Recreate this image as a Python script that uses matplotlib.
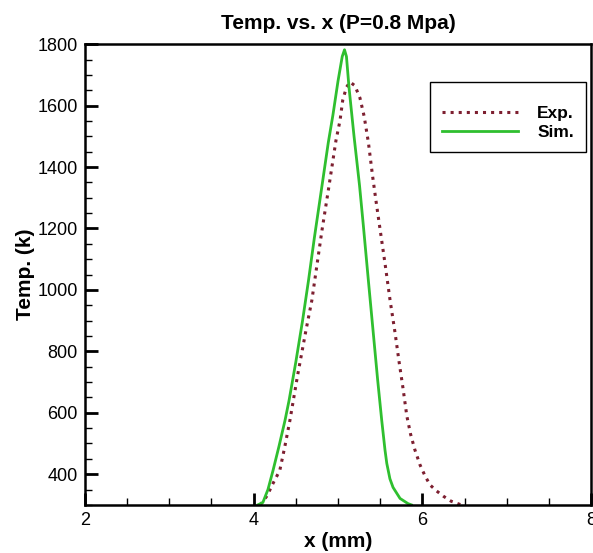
import matplotlib
matplotlib.use("Agg")
import matplotlib.pyplot as plt
from matplotlib.ticker import MultipleLocator

plt.rcParams["font.family"] = ["Liberation Sans", "DejaVu Sans"]

# simulated temperature profile (green)
sim_x = [4.05, 4.11, 4.17, 4.23, 4.30, 4.372, 4.42, 4.50, 4.58, 4.65, 4.72, 4.80, 4.885, 4.94,
         5.00, 5.05, 5.077, 5.10, 5.13, 5.19, 5.255, 5.30, 5.36, 5.415, 5.47, 5.518, 5.557,
         5.578, 5.615, 5.652, 5.735, 5.83, 5.87]
sim_t = [300, 308, 350, 412, 490, 575, 640, 765, 900, 1030, 1170, 1320, 1480, 1570,
         1680, 1760, 1782, 1760, 1660, 1500, 1340, 1210, 1030, 868, 706, 575, 478,
         435, 385, 357, 321, 304, 300]

# experimental temperature profile (dotted red)
exp_x = [4.08, 4.16, 4.23, 4.31, 4.37, 4.43, 4.52, 4.62, 4.69, 4.75, 4.81, 4.885, 4.976, 5.024,
         5.056, 5.10, 5.142, 5.20, 5.26, 5.31, 5.36, 5.41, 5.45, 5.50, 5.56, 5.617, 5.676,
         5.724, 5.77, 5.815, 5.86, 5.91, 5.972, 6.03, 6.09, 6.17, 6.25, 6.34, 6.43, 6.46]
exp_t = [300, 330, 370, 412, 490, 575, 720, 868, 966, 1080, 1194, 1324, 1487, 1552,
         1618, 1660, 1677, 1665, 1625, 1565, 1480, 1370, 1290, 1194, 1080, 966, 860,
         765, 680, 590, 530, 480, 430, 395, 365, 345, 328, 312, 303, 300]

fig = plt.figure(figsize=(5.93, 5.53), dpi=100)
ax = fig.add_axes([0.143, 0.087, 0.854, 0.833])

ax.plot(exp_x, exp_t, color="#7d1f30", linestyle=":", linewidth=2.2, label="Exp.")
ax.plot(sim_x, sim_t, color="#2fbf2f", linestyle="-", linewidth=2.0, label="Sim.")

ax.set_xlim(2, 8)
ax.set_ylim(300, 1800)
ax.xaxis.set_major_locator(MultipleLocator(2))
ax.xaxis.set_minor_locator(MultipleLocator(0.5))
ax.yaxis.set_major_locator(MultipleLocator(200))
ax.yaxis.set_minor_locator(MultipleLocator(50))
ax.tick_params(which="major", direction="in", length=9, width=2, labelsize=13, pad=5)
ax.tick_params(which="minor", direction="in", length=5, width=1)
for s in ax.spines.values():
    s.set_linewidth(1.8)

ax.set_title("Temp. vs. x (P=0.8 Mpa)", fontsize=15, fontweight="bold", pad=11)
ax.set_xlabel("x (mm)", fontsize=15, fontweight="bold", labelpad=2)
ax.set_ylabel("Temp. (k)", fontsize=15, fontweight="bold", labelpad=2)

leg = ax.legend(loc="upper right", bbox_to_anchor=(0.99, 0.9176), borderaxespad=0,
                fontsize=12.5, handlelength=4.4, handletextpad=1.1,
                fancybox=False, framealpha=1, edgecolor="black",
                borderpad=0.7, labelspacing=0.25, title=" ", title_fontsize=6)
for t in leg.get_texts():
    t.set_fontweight("bold")
leg.get_frame().set_linewidth(1.0)

fig.savefig("out.png", dpi=100)
